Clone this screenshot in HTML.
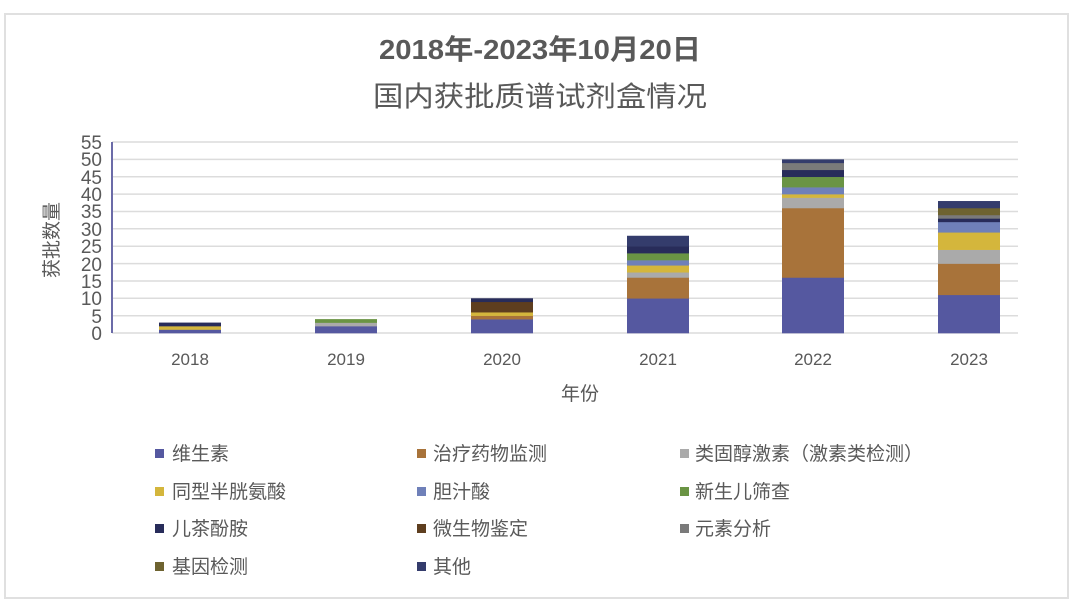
<!DOCTYPE html>
<html><head><meta charset="utf-8"><style>
html,body{margin:0;padding:0;background:#fff;width:1080px;height:609px;overflow:hidden}
svg{display:block;font-family:"Liberation Sans","Noto Sans CJK SC",sans-serif}
</style></head><body>
<svg width="1080" height="609" viewBox="0 0 1080 609">
<rect x="5" y="14" width="1063" height="584" fill="#fff" stroke="#e0e0e0" stroke-width="2"/>
<text x="540" y="59" text-anchor="middle" font-size="28" font-weight="bold" fill="#595959" textLength="322" lengthAdjust="spacingAndGlyphs">2018年-2023年10月20日</text>
<text x="540" y="106" text-anchor="middle" font-size="28" fill="#595959" textLength="334" lengthAdjust="spacingAndGlyphs">国内获批质谱试剂盒情况</text>
<g stroke="#dcdcdc" stroke-width="1.5">
<line x1="112" x2="1018" y1="142" y2="142"/><line x1="112" x2="1018" y1="159.4" y2="159.4"/><line x1="112" x2="1018" y1="176.7" y2="176.7"/><line x1="112" x2="1018" y1="194.1" y2="194.1"/><line x1="112" x2="1018" y1="211.5" y2="211.5"/><line x1="112" x2="1018" y1="228.8" y2="228.8"/><line x1="112" x2="1018" y1="246.2" y2="246.2"/><line x1="112" x2="1018" y1="263.6" y2="263.6"/><line x1="112" x2="1018" y1="281" y2="281"/><line x1="112" x2="1018" y1="298.3" y2="298.3"/><line x1="112" x2="1018" y1="315.7" y2="315.7"/><line x1="112" x2="1018" y1="333" y2="333"/>
</g>
<line x1="112" x2="112" y1="142" y2="333" stroke="#6b6ba8" stroke-width="2"/>
<g font-size="19" fill="#595959" text-anchor="end">
<text x="102" y="149">55</text><text x="102" y="166">50</text><text x="102" y="184">45</text><text x="102" y="201">40</text><text x="102" y="218">35</text><text x="102" y="236">30</text><text x="102" y="253">25</text><text x="102" y="271">20</text><text x="102" y="288">15</text><text x="102" y="305">10</text><text x="102" y="323">5</text><text x="102" y="340">0</text>
</g>
<text transform="translate(58,240) rotate(-90)" text-anchor="middle" font-size="19" fill="#595959">获批数量</text>
<g font-size="17" fill="#595959" text-anchor="middle">
<text x="190" y="365">2018</text><text x="346" y="365">2019</text><text x="502" y="365">2020</text><text x="658" y="365">2021</text><text x="813" y="365">2022</text><text x="969" y="365">2023</text>
</g>
<text x="580" y="400" text-anchor="middle" font-size="19" fill="#595959">年份</text>
<g id="bars"></g>
<g font-size="19" fill="#595959">
<rect x="155" y="449" width="9" height="9" fill="#5558a0"/><text x="172" y="460">维生素</text>
<rect x="417" y="449" width="9" height="9" fill="#a8733a"/><text x="433" y="460">治疗药物监测</text>
<rect x="680" y="449" width="9" height="9" fill="#aaaaaa"/><text x="695" y="460">类固醇激素（激素类检测）</text>
<rect x="155" y="487" width="9" height="9" fill="#d4b63c"/><text x="172" y="498">同型半胱氨酸</text>
<rect x="417" y="487" width="9" height="9" fill="#6f80b9"/><text x="433" y="498">胆汁酸</text>
<rect x="680" y="487" width="9" height="9" fill="#6a9444"/><text x="695" y="498">新生儿筛查</text>
<rect x="155" y="524" width="9" height="9" fill="#282c5a"/><text x="172" y="535">儿茶酚胺</text>
<rect x="417" y="524" width="9" height="9" fill="#5e3e1f"/><text x="433" y="535">微生物鉴定</text>
<rect x="680" y="524" width="9" height="9" fill="#7a7a7a"/><text x="695" y="535">元素分析</text>
<rect x="155" y="562" width="9" height="9" fill="#6e6330"/><text x="172" y="573">基因检测</text>
<rect x="417" y="562" width="9" height="9" fill="#343c6c"/><text x="433" y="573">其他</text>
</g>
</svg>
<script>
var C={v:"#5558a0",t:"#a8733a",s:"#aaaaaa",h:"#d4b63c",b:"#6f80b9",n:"#6a9444",c:"#282c5a",m:"#5e3e1f",e:"#7a7a7a",g:"#6e6330",o:"#343c6c"};
var D=[[190,[["v",1],["h",1],["c",1]]],[346,[["v",2],["s",1],["n",1]]],[502,[["v",4],["t",1],["h",1],["m",3],["c",1]]],
[658,[["v",10],["t",6],["s",1.5],["h",2],["b",1.5],["n",2],["c",2],["o",3]]],
[813,[["v",16],["t",20],["s",3],["h",1],["b",2],["n",3],["c",2],["e",2],["o",1]]],
[969,[["v",11],["t",9],["s",4],["h",5],["b",3],["c",1],["e",1],["g",2],["o",2]]]];
var g=document.getElementById("bars"),s="",k=3.473;
D.forEach(function(d){var acc=0;d[1].forEach(function(p){var y1=333-acc*k,y2=333-(acc+p[1])*k;s+='<rect x="'+(d[0]-31)+'" y="'+y2+'" width="62" height="'+(y1-y2+0.3)+'" fill="'+C[p[0]]+'"/>';acc+=p[1];});});
g.innerHTML=s;
</script>
</body></html>
